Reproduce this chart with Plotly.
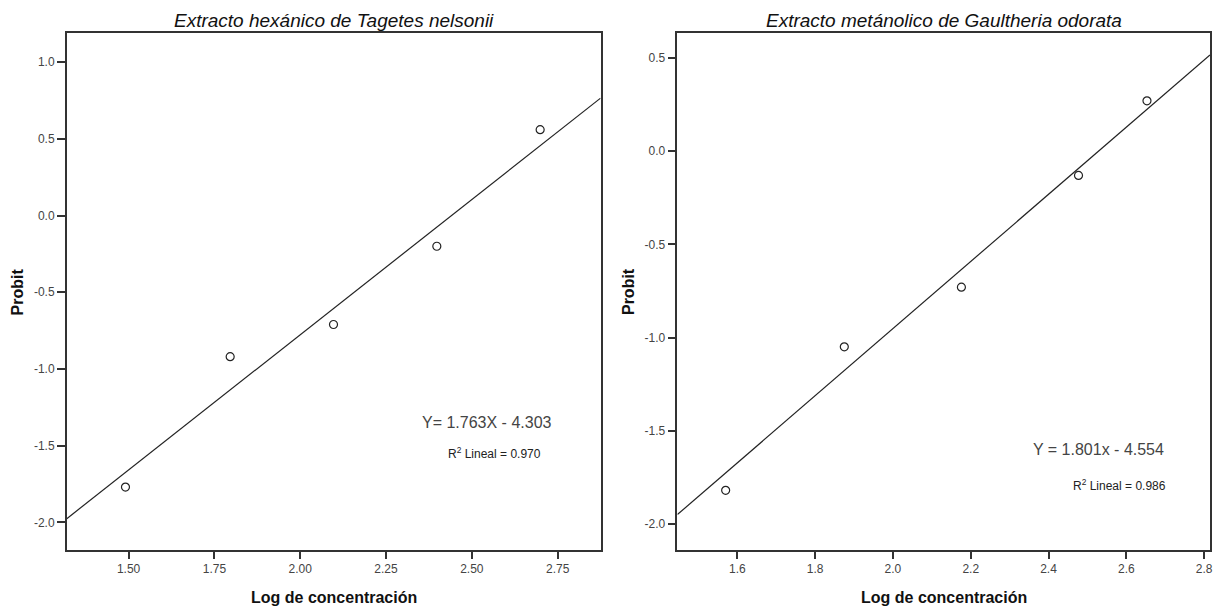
import plotly.graph_objects as go
import numpy as np

# Data
left_x = [1.491, 1.796, 2.097, 2.398, 2.699]
left_y = [-1.77, -0.92, -0.71, -0.20, 0.56]
left_coef = [1.763, -4.303]
left_xrange = [1.320, 2.875]
left_yrange = [-2.18, 1.19]
left_xticks = [1.50, 1.75, 2.00, 2.25, 2.50, 2.75]
left_yticks = [-2.0, -1.5, -1.0, -0.5, 0.0, 0.5, 1.0]

right_x = [1.570, 1.875, 2.176, 2.477, 2.653]
right_y = [-1.82, -1.05, -0.73, -0.13, 0.27]
right_coef = [1.801, -4.554]
right_xrange = [1.446, 2.815]
right_yrange = [-2.14, 0.634]
right_xticks = [1.6, 1.8, 2.0, 2.2, 2.4, 2.6, 2.8]
right_yticks = [-2.0, -1.5, -1.0, -0.5, 0.0, 0.5]

titles = ["Extracto hexánico de Tagetes nelsonii", "Extracto metánolico de Gaultheria odorata"]
equations = ["Y= 1.763X - 4.303", "Y = 1.801x - 4.554"]
r2_labels = ["R<sup>2</sup> Lineal = 0.970", "R<sup>2</sup> Lineal = 0.986"]
x_title = "Log de concentración"
y_title = "Probit"

NARROW = "Liberation Sans Narrow, Liberation Sans, Arial, sans-serif"
SANS = "Liberation Sans, Arial, sans-serif"
AX = "#333333"

fig = go.Figure()

panels = [
    dict(x=left_x, y=left_y, coef=left_coef, xr=left_xrange, yr=left_yrange,
         xt=left_xticks, yt=left_yticks, xfmt=".2f", xs="x", ys="y",
         dom=[0.055, 0.4947], eq_pos=(2.544, -1.35), r2_pos=(2.567, -1.545),
         ytitle_x=0.0148),
    dict(x=right_x, y=right_y, coef=right_coef, xr=right_xrange, yr=right_yrange,
         xt=right_xticks, yt=right_yticks, xfmt=".1f", xs="x2", ys="y2",
         dom=[0.558, 0.9967], eq_pos=(2.528, -1.60), r2_pos=(2.582, -1.79),
         ytitle_x=0.5177),
]

layout = {}
annotations = []
for i, p in enumerate(panels):
    xl = np.array(p["xr"])
    yl = p["coef"][0] * xl + p["coef"][1]
    fig.add_trace(go.Scatter(x=xl, y=yl, mode="lines", line=dict(color="#222", width=1.2),
                             xaxis=p["xs"], yaxis=p["ys"], showlegend=False, hoverinfo="skip"))
    fig.add_trace(go.Scatter(x=p["x"], y=p["y"], mode="markers",
                             marker=dict(symbol="circle-open", size=8, color="#222", line=dict(width=1.2)),
                             xaxis=p["xs"], yaxis=p["ys"], showlegend=False))
    xk = "xaxis" if i == 0 else "xaxis2"
    yk = "yaxis" if i == 0 else "yaxis2"
    layout[xk] = dict(domain=p["dom"], range=p["xr"], tickvals=p["xt"],
                      ticktext=[format(v, p["xfmt"]) for v in p["xt"]],
                      showgrid=False, zeroline=False, showline=True, mirror=True,
                      linecolor=AX, linewidth=1.5, ticks="outside", ticklen=7,
                      tickcolor=AX, tickwidth=1.5,
                      tickfont=dict(family=NARROW, size=12, color="#444"),
                      anchor="y" if i == 0 else "y2")
    layout[yk] = dict(domain=[0.0954, 0.9457], range=p["yr"], tickvals=p["yt"],
                      ticktext=[format(v, ".1f") for v in p["yt"]],
                      showgrid=False, zeroline=False, showline=True, mirror=True,
                      linecolor=AX, linewidth=1.5, ticks="outside", ticklen=8,
                      tickcolor=AX, tickwidth=1.5,
                      tickfont=dict(family=NARROW, size=12, color="#444"),
                      anchor="x" if i == 0 else "x2")
    cx = (p["dom"][0] + p["dom"][1]) / 2
    annotations.append(dict(text="<i>" + titles[i] + "</i>", x=cx, y=0.9655, xref="paper", yref="paper",
                            xanchor="center", yanchor="middle", showarrow=False,
                            font=dict(family=SANS, size=19, color="#111")))
    annotations.append(dict(text="<b>" + x_title + "</b>", x=cx, y=0.018, xref="paper", yref="paper",
                            xanchor="center", yanchor="middle", showarrow=False,
                            font=dict(family=SANS, size=16, color="#111")))
    annotations.append(dict(text="<b>" + y_title + "</b>", x=p["ytitle_x"], y=0.5205,
                            xref="paper", yref="paper", textangle=-90,
                            xanchor="center", yanchor="middle", showarrow=False,
                            font=dict(family=SANS, size=16, color="#111")))
    annotations.append(dict(text=equations[i], x=p["eq_pos"][0], y=p["eq_pos"][1],
                            xref=p["xs"], yref=p["ys"], showarrow=False,
                            font=dict(family=SANS, size=16, color="#444")))
    annotations.append(dict(text=r2_labels[i], x=p["r2_pos"][0], y=p["r2_pos"][1],
                            xref=p["xs"], yref=p["ys"], showarrow=False,
                            font=dict(family=NARROW, size=12, color="#222")))

fig.update_layout(width=1217, height=608, margin=dict(l=0, r=0, t=0, b=0),
                  plot_bgcolor="white", paper_bgcolor="white",
                  annotations=annotations, **layout)

fig.write_html("out.html", config={"displayModeBar": False},
               post_script="document.body.style.margin='0';document.body.style.overflow='hidden';")
